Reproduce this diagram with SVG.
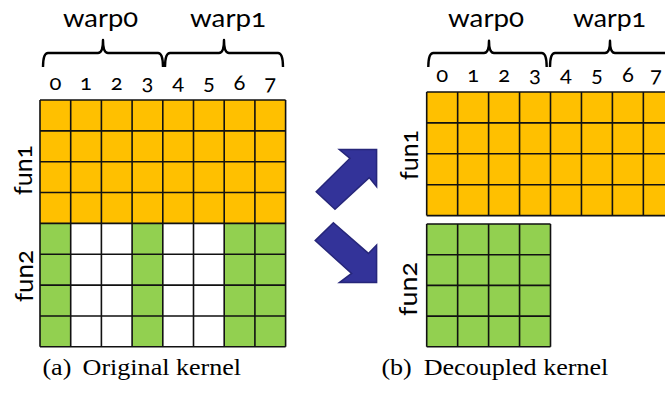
<svg xmlns="http://www.w3.org/2000/svg" width="665" height="394" viewBox="0 0 665 394">
  <style>
    .y { fill: #FFC000; }
    .g { fill: #92D050; }
    .w { fill: #FFFFFF; }
    .grid { fill: none; stroke: #111; stroke-width: 1.6; }
    .brace { fill: none; stroke: #000; stroke-width: 2.4; stroke-linejoin: round; }
    .sans { font-family: Lato, "Noto Sans", sans-serif; fill: #000; font-feature-settings: "onum" 1; font-variant-numeric: oldstyle-nums; }
    .warp { font-size: 25px; }
    .idx { font-size: 22px; text-anchor: middle; }
    .fun { font-size: 25px; text-anchor: middle; }
    .cap { font-family: "Liberation Serif", serif; font-size: 23.5px; fill: #000; }
    .arrow { fill: #333399; stroke: #26267A; stroke-width: 1.5; stroke-linejoin: miter; }
  </style>

  <!-- (a) original kernel: 8 threads x 8 steps -->
  <g id="original-kernel">
    <rect class="y" x="40" y="100" width="245.6" height="123.4"/>
    <rect class="g" x="40" y="223.4" width="30.7" height="123.4"/>
    <rect class="w" x="70.7" y="223.4" width="61.4" height="123.4"/>
    <rect class="g" x="132.1" y="223.4" width="30.7" height="123.4"/>
    <rect class="w" x="162.8" y="223.4" width="61.4" height="123.4"/>
    <rect class="g" x="224.2" y="223.4" width="61.4" height="123.4"/>
    <path class="grid" d="M40,100V346.8M70.7,100V346.8M101.4,100V346.8M132.1,100V346.8M162.8,100V346.8M193.5,100V346.8M224.2,100V346.8M254.9,100V346.8M285.6,100V346.8
      M40,100H285.6M40,130.85H285.6M40,161.7H285.6M40,192.55H285.6M40,223.4H285.6M40,254.25H285.6M40,285.1H285.6M40,315.95H285.6M40,346.8H285.6"/>
    <g class="sans idx">
      <text x="55.35" y="90">0</text>
      <text x="86.05" y="90">1</text>
      <text x="116.75" y="90">2</text>
      <text x="147.45" y="90">3</text>
      <text x="178.15" y="90">4</text>
      <text x="208.85" y="90">5</text>
      <text x="239.55" y="90">6</text>
      <text x="270.25" y="90">7</text>
    </g>
    <path class="brace" d="M43,67Q43,53 48,53H98Q103,53 103,40Q103,53 108,53H158Q163,53 163,67"/>
    <path class="brace" d="M165,67Q165,53 170,53H219Q224,53 224,40Q224,53 229,53H278Q283,53 283,67"/>
    <text class="sans warp" x="63" y="26.5" textLength="75" lengthAdjust="spacingAndGlyphs">warp0</text>
    <text class="sans warp" x="190" y="26.5" textLength="76" lengthAdjust="spacingAndGlyphs">warp1</text>
    <text class="sans fun" transform="translate(31.7,170) rotate(-90)" textLength="50" lengthAdjust="spacingAndGlyphs">fun1</text>
    <text class="sans fun" transform="translate(32.5,276) rotate(-90)" textLength="52" lengthAdjust="spacingAndGlyphs">fun2</text>
  </g>

  <!-- (b) decoupled kernel: fun1 block -->
  <g id="decoupled-fun1">
    <rect class="y" x="426.7" y="92" width="247.6" height="123.6"/>
    <path class="grid" d="M426.7,92V215.6M457.65,92V215.6M488.6,92V215.6M519.55,92V215.6M550.5,92V215.6M581.45,92V215.6M612.4,92V215.6M643.35,92V215.6
      M426.7,92H674.3M426.7,122.9H674.3M426.7,153.8H674.3M426.7,184.7H674.3M426.7,215.6H674.3"/>
    <g class="sans idx">
      <text x="442.2" y="81.7">0</text>
      <text x="473.1" y="81.7">1</text>
      <text x="504.1" y="81.7">2</text>
      <text x="535" y="81.7">3</text>
      <text x="566" y="81.7">4</text>
      <text x="596.9" y="81.7">5</text>
      <text x="627.9" y="81.7">6</text>
      <text x="656" y="81.7">7</text>
    </g>
    <path class="brace" d="M428.3,67Q428.3,53 433.3,53H484Q489,53 489,40.7Q489,53 494,53H541.7Q546.7,53 546.7,67"/>
    <path class="brace" d="M550,67Q550,53 555,53H605Q610,53 610,40.7Q610,53 615,53H670Q675,53 675,67"/>
    <text class="sans warp" x="448" y="26.5" textLength="76" lengthAdjust="spacingAndGlyphs">warp0</text>
    <text class="sans warp" x="573" y="26.5" textLength="73" lengthAdjust="spacingAndGlyphs">warp1</text>
    <text class="sans fun" transform="translate(418,155) rotate(-90)" textLength="50" lengthAdjust="spacingAndGlyphs">fun1</text>
  </g>

  <!-- (b) decoupled kernel: fun2 block -->
  <g id="decoupled-fun2">
    <rect class="g" x="426.7" y="224" width="123.8" height="122.8"/>
    <path class="grid" d="M426.7,224V346.8M457.65,224V346.8M488.6,224V346.8M519.55,224V346.8M550.5,224V346.8
      M426.7,224H550.5M426.7,254.7H550.5M426.7,285.4H550.5M426.7,316.1H550.5M426.7,346.8H550.5"/>
    <text class="sans fun" transform="translate(417.3,289) rotate(-90)" textLength="54" lengthAdjust="spacingAndGlyphs">fun2</text>
  </g>

  <!-- block arrows splitting the kernel -->
  <g id="connectors">
    <polygon class="arrow" points="339.3,149.5 376.6,149.5 376.6,186.6 369.2,177.6 335,209.2 316.2,191.8 350,158.4"/>
    <polygon class="arrow" points="333.4,222.7 368.4,253.4 376.6,245 376.6,282.6 339.4,282.6 351.6,273.4 315.2,240.6"/>
  </g>

  <!-- sub-figure captions, set slightly wide -->
  <g id="captions">
    <text class="cap" transform="translate(42.4,375.3) scale(1.11,1)"><tspan x="0">(a)</tspan><tspan x="36.2">Original kernel</tspan></text>
    <text class="cap" transform="translate(381.4,375.3) scale(1.11,1)"><tspan x="0">(b)</tspan><tspan x="38.1">Decoupled kernel</tspan></text>
  </g>
</svg>
